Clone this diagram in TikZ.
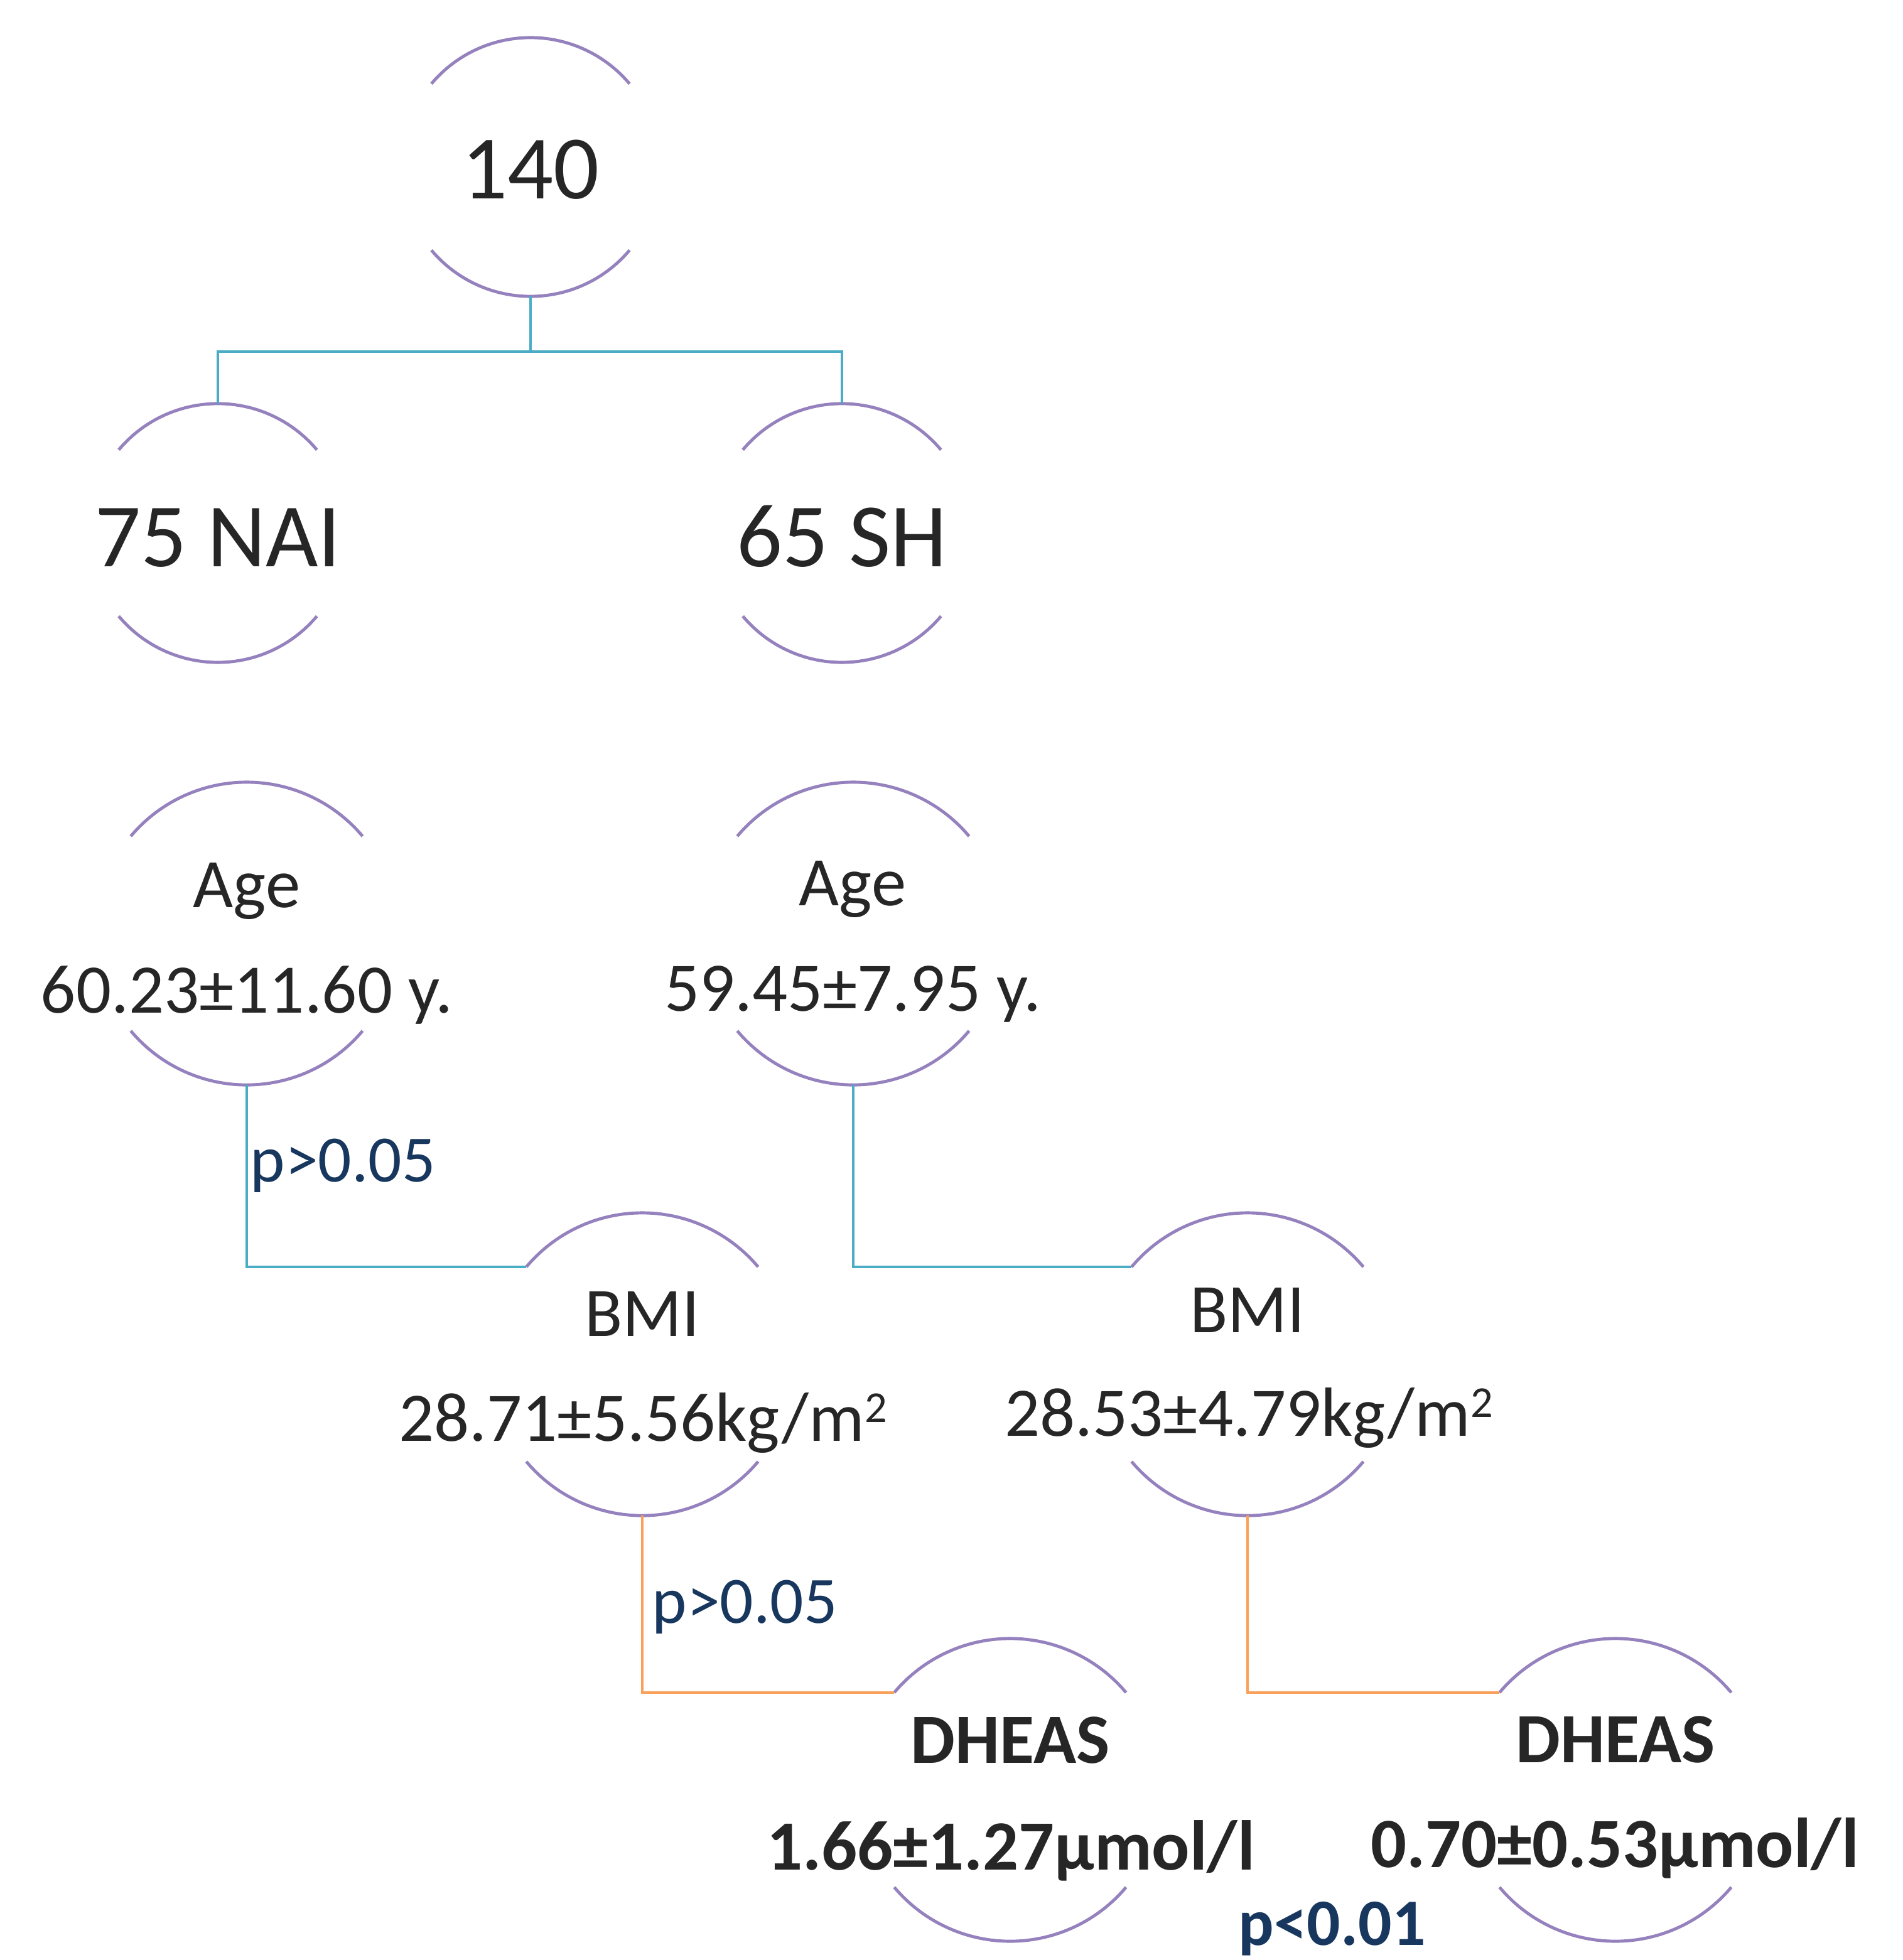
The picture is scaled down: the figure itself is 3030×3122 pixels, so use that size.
\documentclass[tikz,border=0pt]{standalone}
\usepackage{fontspec}
\setmainfont{Carlito}
\usetikzlibrary{calc}
\definecolor{arcc}{HTML}{9581BD}
\definecolor{cyanc}{HTML}{4BACC6}
\definecolor{orc}{HTML}{F9A05A}
\definecolor{txt}{HTML}{262626}
\definecolor{ptxt}{HTML}{17375E}
\newcommand{\sqsup}{\raisebox{8.5pt}{\fontsize{20}{20}\selectfont 2}}
\begin{document}
\begin{tikzpicture}[x=0.01cm,y=0.01cm,
  hub/.style={circle,inner sep=0pt,outer sep=0pt,minimum size=4.12cm},
  bighub/.style={circle,inner sep=0pt,outer sep=0pt,minimum size=4.82cm},
  arcline/.style={draw=arcc,line width=1.4pt},
  link/.style={draw=cyanc,line width=1.2pt},
  olink/.style={draw=orc,line width=1.2pt},
  big/.style={font=\fontsize{41}{49}\selectfont,text=txt,inner sep=0pt,anchor=base},
  mid/.style={font=\fontsize{31.5}{38}\selectfont,text=txt,inner sep=0pt,anchor=base},
  bmid/.style={font=\bfseries\fontsize{32}{38}\selectfont,text=txt,inner sep=0pt,anchor=base},
  plab/.style={font=\fontsize{30}{36}\selectfont,text=ptxt,inner sep=0pt,anchor=base west},
  bplab/.style={font=\bfseries\fontsize{30}{36}\selectfont,text=ptxt,inner sep=0pt,anchor=base west}
]
\useasboundingbox (0,0) rectangle (3030,-3122);

% circle hubs
\node[hub] (top) at (845,-266) {};
\node[hub] (nai) at (347,-849) {};
\node[hub] (sh) at (1341,-849) {};
\node[bighub] (ageL) at (393,-1487) {};
\node[bighub] (ageR) at (1359,-1487) {};
\node[bighub] (bmiL) at (1023,-2173) {};
\node[bighub] (bmiR) at (1987,-2173) {};
\node[bighub] (dhL) at (1609,-2851) {};
\node[bighub] (dhR) at (2573,-2851) {};

% arcs
\foreach \n/\r in {top/206,nai/206,sh/206,ageL/241,ageR/241,bmiL/241,bmiR/241,dhL/241,dhR/241}{
  \draw[arcline] (\n.140) arc[start angle=140,end angle=40,radius=\r];
  \draw[arcline] (\n.220) arc[start angle=220,end angle=320,radius=\r];
}

% connectors
\coordinate (split) at ($(top.south)+(0,-88)$);
\draw[link] (top.south) -- (split) -| (nai.north);
\draw[link] (split) -| (sh.north);
\draw[link] (ageL.south) |- (bmiL.140);
\draw[link] (ageR.south) |- (bmiR.140);
\draw[olink] (bmiL.south) |- (dhL.140);
\draw[olink] (bmiR.south) |- (dhR.140);

% texts
\node[big] (t140) at (845,-317) {140};
\node[big] (tnai) at (347,-902) {75 NAI};
\node[big] (tsh) at (1341,-902) {65 SH};
\node[mid] (tageL) at (393,-1445) {Age};
\node[mid] (vageL) at (393,-1613) {60.23±11.60 y.};
\node[mid] (tageR) at (1358,-1442) {Age};
\node[mid] (vageR) at (1358,-1610) {59.45±7.95 y.};
\node[mid] (tbmiL) at (1023,-2128) {BMI};
\node[mid] (vbmiL) at (1024,-2295) {28.71±5.56kg/m\sqsup};
\node[mid] (tbmiR) at (1987,-2122) {BMI};
\node[mid] (vbmiR) at (1989,-2287) {28.53±4.79kg/m\sqsup};
\node[bmid] (tdhL) at (1609,-2808) {DHEAS};
\node[bmid] (vdhL) at (1610,-2978) {1.66±1.27µmol/l};
\node[bmid] (tdhR) at (2573,-2807) {DHEAS};
\node[bmid] (vdhR) at (2572,-2974) {0.70±0.53µmol/l};
\node[plab] (p1) at (398,-1882) {p>0.05};
\node[plab] (p2) at (1038,-2585) {p>0.05};
\node[bplab] (p3) at (1972,-3098) {p<0.01};
\end{tikzpicture}
\end{document}
